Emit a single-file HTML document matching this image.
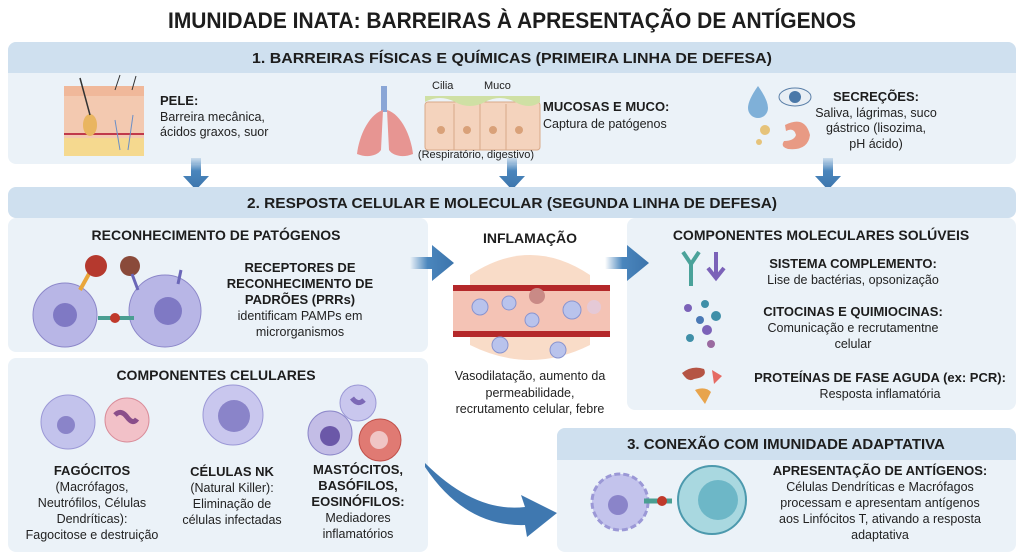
<!DOCTYPE html>
<html><head><meta charset="utf-8"><style>
html,body{margin:0;padding:0;background:#fff;}
svg{display:block;font-family:"Liberation Sans",sans-serif;}
.t{font-weight:bold;fill:#1d1d1d;}
.b{fill:#222;font-size:12.5px;}
.h{font-weight:bold;fill:#1d1d1d;font-size:13px;}
</style></head><body>
<svg width="1024" height="558" viewBox="0 0 1024 558" xmlns="http://www.w3.org/2000/svg">
<defs>
<linearGradient id="ga" x1="0" x2="1"><stop offset="0" stop-color="#4a86bd" stop-opacity="0"/><stop offset="0.4" stop-color="#4a86bd"/><stop offset="1" stop-color="#3c74ab"/></linearGradient>
<linearGradient id="gd" x1="0" y1="0" x2="0" y2="1"><stop offset="0" stop-color="#4a86bd" stop-opacity="0.2"/><stop offset="0.4" stop-color="#4a86bd"/><stop offset="1" stop-color="#3c74ab"/></linearGradient>
</defs>
<rect width="1024" height="558" fill="#fff"/>
<!-- Title -->
<text x="512" y="28" text-anchor="middle" class="t" font-size="22" textLength="688" lengthAdjust="spacingAndGlyphs">IMUNIDADE INATA: BARREIRAS À APRESENTAÇÃO DE ANTÍGENOS</text>

<!-- Section 1 -->
<rect x="8" y="42" width="1008" height="122" rx="8" fill="#ebf2f8"/>
<path d="M8 50 a8 8 0 0 1 8 -8 h992 a8 8 0 0 1 8 8 v23 h-1008z" fill="#cfe0ef"/>
<text x="512" y="63" text-anchor="middle" class="t" font-size="15" textLength="520" lengthAdjust="spacingAndGlyphs">1. BARREIRAS FÍSICAS E QUÍMICAS (PRIMEIRA LINHA DE DEFESA)</text>
<!-- skin -->
<g>
<rect x="64" y="92" width="80" height="62" fill="#f3c9b0"/>
<rect x="64" y="86" width="80" height="10" fill="#f0b89a"/>
<rect x="64" y="138" width="80" height="18" fill="#f5d98f"/>
<line x1="64" y1="134" x2="144" y2="134" stroke="#c0394b" stroke-width="2"/>
<ellipse cx="90" cy="125" rx="7" ry="11" fill="#e9b560"/>
<line x1="90" y1="115" x2="80" y2="78" stroke="#333" stroke-width="1.5"/>
<line x1="115" y1="90" x2="120" y2="75" stroke="#333"/>
<line x1="132" y1="90" x2="136" y2="76" stroke="#333"/>
<path d="M120 150 l-5 -30 M128 150 l5 -35" stroke="#6a8fc7" fill="none"/>
</g>
<text x="160" y="105" class="h">PELE:</text>
<text x="160" y="121" class="b">Barreira mecânica,</text>
<text x="160" y="136" class="b">ácidos graxos, suor</text>
<!-- lungs -->
<rect x="381" y="86" width="6" height="26" fill="#8aa6d6"/>
<path d="M383 110 c-14 4 -24 26 -26 44 c10 4 20 2 24 -4z" fill="#e79592"/>
<path d="M387 110 c14 4 24 26 26 44 c-10 4 -20 2 -24 -4z" fill="#e79592"/>
<!-- mucosa -->
<rect x="425" y="102" width="115" height="48" rx="3" fill="#f4d3bd" stroke="#d9a989"/>
<path d="M425 102 q15 -8 30 0 t30 0 t30 0 t25 0 v-6 h-115z" fill="#cfe0a4"/>
<g fill="#d9a179"><circle cx="441" cy="130" r="4"/><circle cx="467" cy="130" r="4"/><circle cx="493" cy="130" r="4"/><circle cx="519" cy="130" r="4"/></g>
<g stroke="#d9a989"><line x1="454" y1="104" x2="454" y2="150"/><line x1="480" y1="104" x2="480" y2="150"/><line x1="506" y1="104" x2="506" y2="150"/></g>
<text x="432" y="89" font-size="11" fill="#222">Cilia</text>
<text x="484" y="89" font-size="11" fill="#222">Muco</text>
<text x="476" y="158" text-anchor="middle" font-size="11" fill="#222">(Respiratório, digestivo)</text>
<text x="543" y="111" class="h">MUCOSAS E MUCO:</text>
<text x="543" y="128" class="b">Captura de patógenos</text>
<!-- secretions -->
<path d="M758 86 q-10 14 -10 22 a10 10 0 0 0 20 0 q0 -8 -10 -22z" fill="#7fb0d8"/>
<ellipse cx="795" cy="97" rx="16" ry="9" fill="#e8eef4" stroke="#5a7fa8"/>
<circle cx="795" cy="97" r="6" fill="#4a78a8"/>
<circle cx="765" cy="130" r="5" fill="#e6c37a"/><circle cx="759" cy="142" r="3" fill="#e6c37a"/>
<path d="M785 125 q20 -10 25 10 q-2 16 -22 14 q-8 -2 -4 -8 q10 0 12 -6 q-2 -8 -10 -4z" fill="#e89a84"/>
<text x="876" y="101" text-anchor="middle" class="h">SECREÇÕES:</text>
<text x="876" y="117" text-anchor="middle" class="b">Saliva, lágrimas, suco</text>
<text x="876" y="132" text-anchor="middle" class="b">gástrico (lisozima,</text>
<text x="876" y="148" text-anchor="middle" class="b">pH ácido)</text>

<!-- down arrows -->
<g fill="url(#gd)">
<path d="M191 158 h10 v18 h8 l-13 14 l-13 -14 h8z"/>
<path d="M507 158 h10 v18 h8 l-13 14 l-13 -14 h8z"/>
<path d="M823 158 h10 v18 h8 l-13 14 l-13 -14 h8z"/>
</g>

<!-- Section 2 header -->
<rect x="8" y="187" width="1008" height="31" rx="8" fill="#cfe0ef"/>
<text x="512" y="208" text-anchor="middle" class="t" font-size="15" textLength="530" lengthAdjust="spacingAndGlyphs">2. RESPOSTA CELULAR E MOLECULAR (SEGUNDA LINHA DE DEFESA)</text>

<!-- Panels -->
<rect x="8" y="218" width="420" height="134" rx="8" fill="#ebf2f8"/>
<rect x="8" y="358" width="420" height="194" rx="8" fill="#ebf2f8"/>
<rect x="627" y="218" width="389" height="192" rx="8" fill="#ebf2f8"/>
<rect x="557" y="428" width="459" height="124" rx="8" fill="#ebf2f8"/>
<path d="M557 436 a8 8 0 0 1 8 -8 h443 a8 8 0 0 1 8 8 v24 h-459z" fill="#cfe0ef"/>

<!-- Reconhecimento -->
<text x="216" y="240" text-anchor="middle" class="t" font-size="14">RECONHECIMENTO DE PATÓGENOS</text>
<circle cx="65" cy="315" r="32" fill="#b8b6e6" stroke="#8c87c9"/>
<circle cx="65" cy="315" r="12" fill="#7f79c4"/>
<circle cx="165" cy="311" r="36" fill="#b8b6e6" stroke="#8c87c9"/>
<circle cx="168" cy="311" r="14" fill="#7f79c4"/>
<path d="M80 290 l10 -18" stroke="#e9a63b" stroke-width="4"/>
<path d="M98 318 h36" stroke="#4a9e92" stroke-width="4"/>
<circle cx="115" cy="318" r="5" fill="#c0392b"/>
<circle cx="96" cy="266" r="11" fill="#b5392e"/>
<circle cx="130" cy="266" r="10" fill="#8a4a3a"/>
<path d="M138 290 l-6 -16 M178 284 l3 -14" stroke="#6b67b8" stroke-width="3"/>
<g text-anchor="middle">
<text x="300" y="272" class="h">RECEPTORES DE</text>
<text x="300" y="288" class="h">RECONHECIMENTO DE</text>
<text x="300" y="304" class="h">PADRÕES (PRRs)</text>
<text x="300" y="320" class="b">identificam PAMPs em</text>
<text x="300" y="336" class="b">microrganismos</text>
</g>

<!-- Inflamação -->
<text x="530" y="243" text-anchor="middle" class="t" font-size="14">INFLAMAÇÃO</text>
<path d="M410 257 h22 v-12 l22 18 l-22 18 v-12 h-22z" fill="url(#ga)"/>
<path d="M605 257 h22 v-12 l22 18 l-22 18 v-12 h-22z" fill="url(#ga)"/>
<path d="M470 275 q60 -40 120 0 v70 q-60 30 -120 0z" fill="#f9dcc8"/>
<rect x="453" y="285" width="157" height="52" fill="#f4c3b5"/>
<rect x="453" y="285" width="157" height="6" fill="#b4282a"/>
<rect x="453" y="331" width="157" height="6" fill="#b4282a"/>
<g fill="#b9c3ec" stroke="#8994cf">
<circle cx="480" cy="307" r="8"/><circle cx="509" cy="303" r="7"/><circle cx="532" cy="320" r="7"/><circle cx="572" cy="310" r="9"/><circle cx="500" cy="345" r="8"/><circle cx="558" cy="350" r="8"/></g>
<circle cx="537" cy="296" r="8" fill="#c98a86"/>
<circle cx="594" cy="307" r="7" fill="#e5c9d6"/>
<g text-anchor="middle">
<text x="530" y="380" class="b">Vasodilatação, aumento da</text>
<text x="530" y="397" class="b">permeabilidade,</text>
<text x="530" y="413" class="b">recrutamento celular, febre</text>
</g>

<!-- Moleculares -->
<text x="821" y="240" text-anchor="middle" class="t" font-size="14">COMPONENTES MOLECULARES SOLÚVEIS</text>
<path d="M683 252 l8 12 l8 -12 M691 264 v22" stroke="#4aa29a" stroke-width="4" fill="none"/>
<path d="M708 268 l8 10 l8 -10 M716 252 v26" stroke="#7b62b8" stroke-width="4" fill="none"/>
<g text-anchor="middle">
<text x="853" y="268" class="h">SISTEMA COMPLEMENTO:</text>
<text x="853" y="284" class="b">Lise de bactérias, opsonização</text>
<text x="853" y="316" class="h">CITOCINAS E QUIMIOCINAS:</text>
<text x="853" y="332" class="b">Comunicação e recrutamentne</text>
<text x="853" y="348" class="b">celular</text>
<text x="880" y="382" class="h">PROTEÍNAS DE FASE AGUDA (ex: PCR):</text>
<text x="880" y="398" class="b">Resposta inflamatória</text>
</g>
<g><circle cx="688" cy="308" r="4" fill="#7b62b8"/><circle cx="705" cy="304" r="4" fill="#3f8fa8"/><circle cx="716" cy="316" r="5" fill="#3f8fa8"/><circle cx="700" cy="320" r="4" fill="#4a79b5"/><circle cx="707" cy="330" r="5" fill="#7b62b8"/><circle cx="690" cy="338" r="4" fill="#3f8fa8"/><circle cx="711" cy="344" r="4" fill="#9a6aa0"/></g>
<path d="M682 373 q10 -8 22 -4 q4 8 -10 10 q-6 4 -12 -6z" fill="#b55444"/>
<path d="M712 370 l10 6 l-8 8z" fill="#e56a63"/>
<path d="M695 390 q10 -4 16 2 l-6 12z" fill="#e8a44c"/>

<!-- Componentes celulares -->
<text x="216" y="380" text-anchor="middle" class="t" font-size="14">COMPONENTES CELULARES</text>
<circle cx="68" cy="422" r="27" fill="#c3c3ec" stroke="#9b98d6"/>
<circle cx="66" cy="425" r="9" fill="#8a84c9"/>
<circle cx="127" cy="420" r="22" fill="#f2c1c8" stroke="#d98d9a"/>
<path d="M115 415 q6 -6 12 2 q6 8 10 2" stroke="#8a4e8a" stroke-width="5" fill="none"/>
<circle cx="233" cy="415" r="30" fill="#c9c7ee" stroke="#9b98d6"/>
<circle cx="234" cy="416" r="16" fill="#8a84c9"/>
<circle cx="358" cy="403" r="18" fill="#c9c7ee" stroke="#9b98d6"/>
<path d="M352 398 q6 8 12 2" stroke="#7c69b6" stroke-width="5" fill="none"/>
<circle cx="330" cy="433" r="22" fill="#c3bde6" stroke="#8c87c9"/>
<circle cx="330" cy="436" r="10" fill="#6b58a8"/>
<circle cx="380" cy="440" r="21" fill="#e07a73" stroke="#c0504a"/>
<circle cx="379" cy="440" r="9" fill="#f0c5c5"/>
<g text-anchor="middle">
<text x="92" y="475" class="h">FAGÓCITOS</text>
<text x="92" y="491" class="b">(Macrófagos,</text>
<text x="92" y="507" class="b">Neutrófilos, Células</text>
<text x="92" y="523" class="b">Dendríticas):</text>
<text x="92" y="539" class="b">Fagocitose e destruição</text>
<text x="232" y="476" class="h">CÉLULAS NK</text>
<text x="232" y="492" class="b">(Natural Killer):</text>
<text x="232" y="508" class="b">Eliminação de</text>
<text x="232" y="524" class="b">células infectadas</text>
<text x="358" y="474" class="h">MASTÓCITOS,</text>
<text x="358" y="490" class="h">BASÓFILOS,</text>
<text x="358" y="506" class="h">EOSINÓFILOS:</text>
<text x="358" y="522" class="b">Mediadores</text>
<text x="358" y="538" class="b">inflamatórios</text>
</g>
<!-- curved arrow -->
<path d="M425 463 q50 50 100 44 l-4 -12 l36 18 l-30 24 l-2 -12 q-60 2 -100 -58z" fill="#3f78b0"/>

<!-- Section 3 -->
<text x="786" y="449" text-anchor="middle" class="t" font-size="15">3. CONEXÃO COM IMUNIDADE ADAPTATIVA</text>
<circle cx="620" cy="502" r="28" fill="#c3c3ec" stroke="#9b98d6" stroke-dasharray="6 3" stroke-width="3"/>
<circle cx="618" cy="505" r="10" fill="#8a84c9"/>
<path d="M644 501 h28" stroke="#4a9e92" stroke-width="5"/>
<circle cx="662" cy="501" r="5" fill="#c0392b"/>
<circle cx="712" cy="500" r="34" fill="#a9d8e0" stroke="#4c99ad" stroke-width="2"/>
<circle cx="718" cy="500" r="20" fill="#6db7c7"/>
<g text-anchor="middle">
<text x="880" y="475" class="h">APRESENTAÇÃO DE ANTÍGENOS:</text>
<text x="880" y="491" class="b">Células Dendríticas e Macrófagos</text>
<text x="880" y="507" class="b">processam e apresentam antígenos</text>
<text x="880" y="523" class="b">aos Linfócitos T, ativando a resposta</text>
<text x="880" y="539" class="b">adaptativa</text>
</g>
</svg>
</body></html>
